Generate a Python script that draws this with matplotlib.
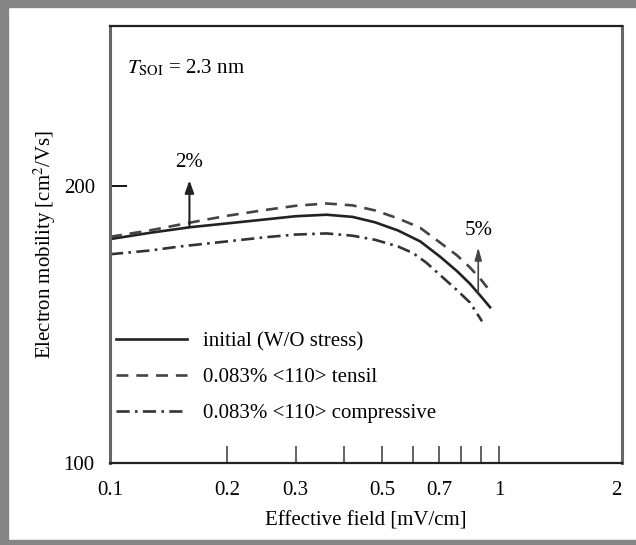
import matplotlib
matplotlib.use("Agg")
import matplotlib.pyplot as plt
from matplotlib.patches import Rectangle

plt.rcParams['font.family'] = ['Liberation Serif', 'DejaVu Serif']
plt.rcParams['mathtext.fontset'] = 'stix'
plt.rcParams['font.size'] = 15

# values (field in mV/cm, mobility in cm2/Vs)
field_initial = [0.1, 0.127, 0.161, 0.2, 0.25, 0.3, 0.36, 0.42, 0.48, 0.55, 0.627, 0.705, 0.78, 0.842, 0.9, 0.948]
mu_initial = [175, 177.8, 180.3, 182, 183.8, 185.3, 186, 185, 182.5, 178.8, 174, 167.5, 161.5, 156.5, 151.5, 147.6]

field_tensile = [0.1, 0.127, 0.17, 0.2, 0.25, 0.3, 0.36, 0.42, 0.48, 0.55, 0.627, 0.705, 0.78, 0.842, 0.9, 0.933]
mu_tensile = [176, 178.9, 183.2, 185.5, 188.2, 190.2, 191.3, 190.4, 188, 184.3, 180, 173.5, 168, 163, 158, 155]

field_comp = [0.1, 0.127, 0.151, 0.2, 0.25, 0.3, 0.36, 0.42, 0.48, 0.55, 0.601, 0.65, 0.705, 0.78, 0.842, 0.904]
mu_compressive = [168.5, 170.1, 171.8, 174, 175.8, 177, 177.5, 176.5, 174.7, 171.8, 169, 165, 160, 154, 149.3, 142.5]

labels = ['initial (W/O stress)', '0.083% <110> tensil', '0.083% <110> compressive']
xtick_vals = [0.1, 0.2, 0.3, 0.4, 0.5, 0.6, 0.7, 0.8, 0.9, 1, 2]
xtick_labels = ['0.1', '0.2', '0.3', '', '0.5', '', '0.7', '', '', '1', '2']

fig = plt.figure(figsize=(6.36, 5.45), dpi=100)
ax = fig.add_axes([0.173, 0.1505, 0.805, 0.8015])

ax.plot(field_initial, mu_initial, color='#222222', lw=1.9, ls='-', label=labels[0])
ax.plot(field_tensile, mu_tensile, color='#444444', lw=1.9, ls=(0, (4.5, 3)), label=labels[1])
ax.plot(field_comp, mu_compressive, color='#333333', lw=1.9, ls=(0, (5, 2, 1, 2)), label=labels[2])

ax.set_xscale('log')
ax.set_yscale('log')
ax.set_xlim(0.1, 2.07)
ax.set_ylim(100, 298)

ax.set_xticks(xtick_vals)
ax.set_xticklabels(xtick_labels)
ax.set_xticks([], minor=True)
ax.tick_params(axis='x', which='major', direction='in', length=12, width=1.3, color='#555555', pad=13)
xt = ax.xaxis.get_major_ticks()
xt[0].tick1line.set_visible(False)
xt[-1].tick1line.set_visible(False)

ax.set_yticks([100, 200])
ax.set_yticklabels(['100', '200'])
ax.set_yticks([], minor=True)
ax.tick_params(axis='y', which='major', direction='in', length=12, width=1.3, pad=11)

for side in ['top', 'bottom']:
    ax.spines[side].set_linewidth(1.6)
    ax.spines[side].set_color('#222222')
for side in ['left', 'right']:
    ax.spines[side].set_linewidth(2.2)
    ax.spines[side].set_color('#666666')

ax.set_xlabel('Effective field [mV/cm]', labelpad=8)
ax.set_ylabel('Electron mobility [cm$^2$/Vs]', labelpad=4)

ax.text(0.034, 0.905, r'$T_{\rm SOI}$ = 2.3 nm', transform=ax.transAxes, va='center')

ax.annotate('', xy=(0.16, 202.7), xytext=(0.16, 180.3),
            arrowprops=dict(arrowstyle='-|>,head_length=0.5,head_width=0.18', color='#222222',
                            lw=1.5, shrinkA=0, shrinkB=0))
ax.text(0.16, 212, '2%', ha='center', va='center')
ax.annotate('', xy=(0.884, 171.4), xytext=(0.884, 153.2),
            arrowprops=dict(arrowstyle='-|>,head_length=0.5,head_width=0.14', color='#444444',
                            lw=1.2, shrinkA=0, shrinkB=0))
ax.text(0.884, 178.9, '5%', ha='center', va='center')

ax.legend(loc='lower left', bbox_to_anchor=(0.012, 0.091), frameon=False,
          handlelength=3.4, handletextpad=0.75, labelspacing=0.79, borderpad=0, borderaxespad=0)

# gray frame around the picture (top, left, bottom)
gray = '#858585'
fig.patches.append(Rectangle((0, 1 - 7 / 545), 1, 7 / 545, transform=fig.transFigure, color=gray, zorder=0))
fig.patches.append(Rectangle((0, 0), 8 / 636, 1, transform=fig.transFigure, color=gray, zorder=0))
fig.patches.append(Rectangle((0, 0), 1, 5 / 545, transform=fig.transFigure, color=gray, zorder=0))

fig.savefig('out.png', dpi=100)
